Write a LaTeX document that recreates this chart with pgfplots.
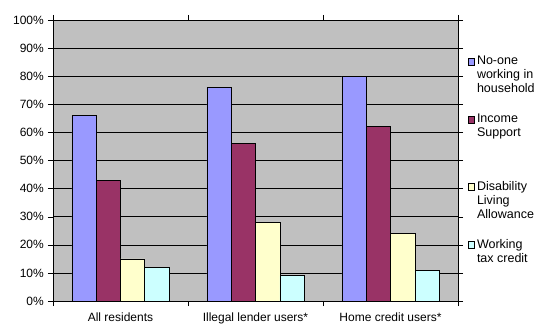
\documentclass[border=0pt]{standalone}
\usepackage{pgfplots}
\pgfplotsset{compat=1.18}
\usepackage{fontspec}
\setmainfont{Liberation Sans}
\definecolor{c1}{HTML}{9999FF}
\definecolor{c2}{HTML}{993366}
\definecolor{c3}{HTML}{FFFFCC}
\definecolor{c4}{HTML}{CCFFFF}
\definecolor{plotbg}{HTML}{C0C0C0}
\pgfplotsset{sq/.style={legend image code/.code={\draw[##1, draw=black, line width=0.5pt] (0pt,#1) rectangle (6pt,{#1+7pt});}}}
\begin{document}
\fontsize{12}{14}\selectfont
\begin{tikzpicture}
\path[use as bounding box] (-53pt,-23pt) rectangle (485pt,301pt);
\begin{axis}[
  at={(0,0)}, anchor=south west,
  scale only axis, width=405pt, height=281pt,
  ybar=0pt, bar width=0.18,
  xmin=-0.5, xmax=2.5, ymin=0, ymax=100,
  xtick={0,1,2},
  xticklabels={All residents, Illegal lender users*, Home credit users*},
  minor xtick={-0.5,0.5,1.5,2.5},
  major x tick style={draw=none},
  minor x tick style={draw=black},
  ytick={0,10,...,100},
  yticklabel={\pgfmathprintnumber{\tick}\%},
  /pgf/number format/assume math mode=true,
  tick align=outside, major tick length=5pt, minor tick length=5pt,
  ytick style={black},
  ymajorgrids, major grid style={black, line width=0.5pt},
  axis line style={black, line width=0.5pt},
  axis background/.style={fill=plotbg},
  tick label style={font=\fontsize{12}{14}\selectfont},
  xticklabel style={yshift=-3pt},
  legend style={at={(1.023,0.875)}, anchor=north west, draw=none, fill=none,
    font=\fontsize{12.5}{14}\selectfont, row sep=17pt, column sep=2pt, inner sep=0pt,
    nodes={align=left, inner sep=1pt}},
  legend cell align=left,
  legend style={cells={anchor=base west}},
  every axis plot/.append style={draw=black, line width=0.6pt},
]
\addplot[fill=c1, sq=28pt] coordinates {(0,66) (1,76) (2,80)};
\addplot[fill=c2, sq=37pt] coordinates {(0,43) (1,56) (2,62)};
\addplot[fill=c3, sq=28pt] coordinates {(0,15) (1,28) (2,24)};
\addplot[fill=c4, sq=14pt] coordinates {(0,12) (1,9) (2,11)};
\legend{No-one\\working in\\household, Income\\Support\\[10pt]~, Disability\\Living\\Allowance, Working\\tax credit}
\end{axis}
\end{tikzpicture}
\end{document}
